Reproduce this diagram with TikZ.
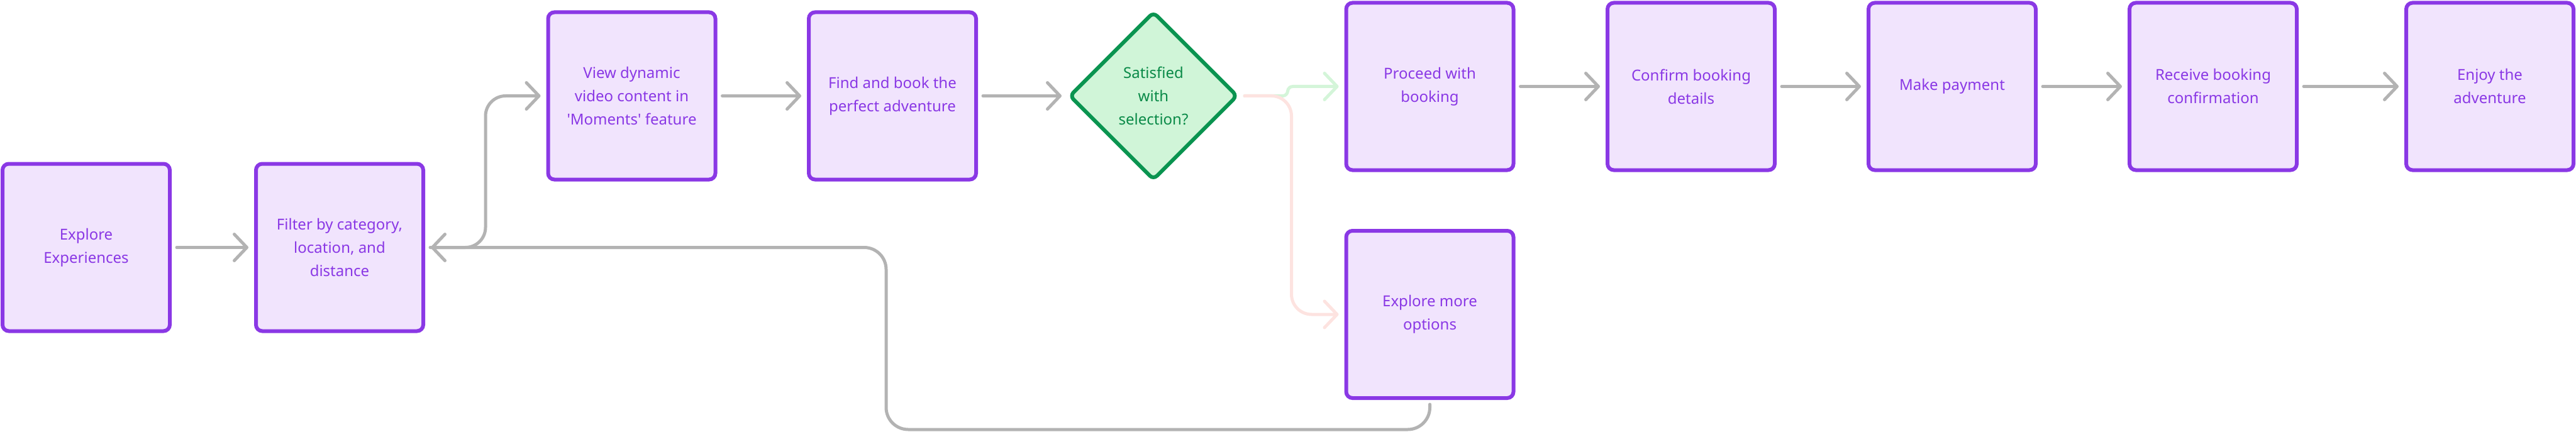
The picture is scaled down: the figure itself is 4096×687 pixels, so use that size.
\documentclass[tikz,border=0pt]{standalone}
\usepackage{fontspec}
\setmainfont{Noto Sans}
\usetikzlibrary{arrows.meta,shapes.geometric,calc}
\definecolor{boxborder}{HTML}{8A38E5}
\definecolor{boxfill}{HTML}{F1E4FD}
\definecolor{boxtext}{HTML}{8A38E5}
\definecolor{arrgray}{HTML}{B3B3B3}
\definecolor{decfill}{HTML}{D0F5D8}
\definecolor{decborder}{HTML}{0A9450}
\definecolor{dectext}{HTML}{0A8A48}
\definecolor{yesline}{HTML}{D4F5D9}
\definecolor{noline}{HTML}{FDE3E0}
\begin{document}
\begin{tikzpicture}[x=1pt,y=-1pt,
 stepbox/.style={draw=boxborder, fill=boxfill, line width=6pt, rounded corners=10pt,
   minimum width=266pt, minimum height=266pt, inner sep=0pt, align=center,
   text=boxtext, font=\fontsize{24}{37}\selectfont},
 decision/.style={diamond, aspect=1, draw=decborder, fill=decfill, line width=6pt,
   rounded corners=8pt, minimum width=268pt, minimum height=268pt, inner sep=0pt,
   align=center, text=dectext, font=\fontsize{24}{37}\selectfont},
 conn/.style={draw=arrgray, line width=5pt, line cap=round, line join=round,
   -{Straight Barb[length=20pt,width=42pt,round]}, shorten <=8pt, shorten >=9pt},
]
\useasboundingbox (0,0) rectangle (4096,687);

\node[stepbox] (b1) at (137,393.5) {Explore\\Experiences};
\node[stepbox] (b2) at (540,393.5) {Filter by category,\\location, and\\distance};
\node[stepbox] (b3) at (1004.5,152.5) {View dynamic\\video content in\\\textquotesingle Moments\textquotesingle\ feature};
\node[stepbox] (b4) at (1419,152.5) {Find and book the\\perfect adventure};
\node[decision] (d) at (1834,152.5) {Satisfied\\with\\selection?};
\node[stepbox] (p1) at (2273.5,137.5) {Proceed with\\booking};
\node[stepbox] (p2) at (2689,137.5) {Confirm booking\\details};
\node[stepbox] (p3) at (3104,137.5) {Make payment};
\node[stepbox] (p4) at (3519,137.5) {Receive booking\\confirmation};
\node[stepbox] (p5) at (3959,137.5) {Enjoy the\\adventure};
\node[stepbox] (e) at (2273.5,500) {Explore more\\options};

\coordinate (lowL) at (1409,683);

% main flow
\draw[conn] (b1.east) -- (b2.west);
\draw[conn, rounded corners=32pt] (b2.east) -- ([xshift=96pt]b2.east) |- (b3.west);
\draw[conn] (b3.east) -- (b4.west);
\draw[conn] (b4.east) -- (d.west);
% decision branches
\draw[conn, draw=yesline, rounded corners=8pt] (d.east) -| ([xshift=-90pt]p1.west) -- (p1.west);
\draw[conn, draw=noline, rounded corners=32pt] (d.east) -| ([xshift=-84pt]e.west) -- (e.west);
% booking flow
\draw[conn] (p1.east) -- (p2.west);
\draw[conn] (p2.east) -- (p3.west);
\draw[conn] (p3.east) -- (p4.west);
\draw[conn] (p4.east) -- (p5.west);
% loop back
\draw[conn, rounded corners=35pt, shorten <=7pt] (e.south) |- (lowL) |- (b2.east);
\end{tikzpicture}
\end{document}
